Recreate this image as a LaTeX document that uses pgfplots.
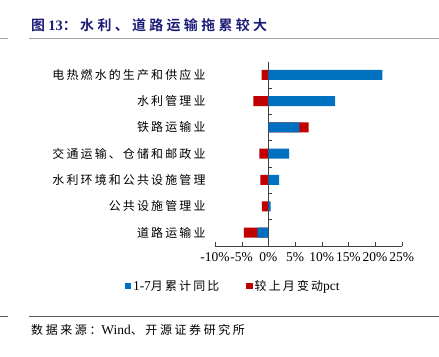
\documentclass[border=0pt]{standalone}
\usepackage{fontspec}
\setmainfont{Liberation Serif}
\newfontfamily\cjk[LetterSpace=18]{Noto Sans CJK SC}
\newfontfamily\cjks[LetterSpace=22]{Noto Sans CJK SC}
\newfontfamily\cjkt[LetterSpace=24]{Noto Sans CJK SC Bold}
\usepackage{pgfplots}
\pgfplotsset{compat=1.18}
\definecolor{barblue}{RGB}{0,112,192}
\definecolor{barred}{RGB}{192,0,0}
\definecolor{titlec}{RGB}{28,28,120}
\pgfplotstableread{
idx blue redplot
0 21.4 -1.25
1 12.5 -2.8
2 5.8 7.55
3 3.9 -1.7
4 2.0 -1.5
5 0.45 -1.2
6 -2.05 -4.6
}\datatab
\begin{document}
\begin{tikzpicture}
\useasboundingbox (0,0) rectangle (439bp,-357bp);
\node[anchor=west, text=titlec, inner sep=0] at (31bp,-25bp) {{\fontsize{14}{16}\selectfont\cjkt 图}{\fontsize{14.5}{16}\selectfont\textbf{13}}{\fontsize{14}{16}\selectfont\cjkt ：水利、道路运输拖累较大}};
\draw[line width=1.5bp, black!38] (29bp,-38.5bp) -- (439bp,-38.5bp);
\draw[line width=1.5bp, black!38] (0bp,-38.5bp) -- (8bp,-38.5bp);
\draw[line width=0.8bp, black!65] (29bp,-316bp) -- (439bp,-316bp);
\draw[line width=0.8bp, black!65] (0bp,-316bp) -- (8bp,-316bp);
\node[anchor=west, inner sep=0] at (31bp,-330bp) {\fontsize{13.5}{15}\selectfont{\fontsize{12}{14}\selectfont\cjks 数据来源：}Wind{\fontsize{12}{14}\selectfont\cjks 、开源证券研究所}};
\begin{axis}[
  at={(215bp,-245.7bp)}, anchor=south west,
  scale only axis, width=186.7bp, height=184bp,
  xmin=-10, xmax=25, ymin=-0.5, ymax=6.5, y dir=reverse,
  xbar, bar width=10bp, bar shift=0pt,
  axis x line*=bottom, axis y line*=left,
  y axis line style={draw=none},
  x axis line style={black!75},
  xtick={-10,-5,...,25},
  xticklabel={\pgfmathprintnumber{\tick}\%},
  /pgf/number format/assume math mode=true,
  x tick label style={font=\fontsize{13.5}{15}\selectfont, yshift=-7bp, inner sep=0pt},
  x tick style={black!75},
  tick align=inside, major tick length=4bp,
  ytick={0,...,6},
  yticklabels={电热燃水的生产和供应业,水利管理业,铁路运输业,交通运输、仓储和邮政业,水利环境和公共设施管理,公共设施管理业,道路运输业},
  y tick label style={font=\cjk\fontsize{12}{14}\selectfont, xshift=-6bp},
  ytick style={draw=none},
  legend style={at={(-0.485,-0.219)}, anchor=west, draw=none, fill=none,
    legend columns=2, font=\fontsize{13.5}{15}\selectfont,
    /tikz/every even column/.append style={column sep=25bp},
    inner sep=0pt},
  legend image code/.code={\fill[#1] (0bp,-3.2bp) rectangle (6.4bp,3.2bp);},
  legend cell align=left,
]
\draw[black!75] (axis cs:0,-0.5) -- (axis cs:0,6.5);
\pgfplotsinvokeforeach{0.5,1.5,2.5,3.5,4.5,5.5}{\draw[black!75] (axis cs:0,#1) -- ([xshift=4bp]axis cs:0,#1);}
\addplot[fill=barred, draw=none, forget plot] table[x=redplot, y=idx] {\datatab};
\addplot[fill=barblue, draw=none] table[x=blue, y=idx] {\datatab};
\addlegendentry{1-7{\fontsize{12}{14}\selectfont\cjk 月累计同比}}
\addlegendimage{fill=barred, draw=none}
\addlegendentry{{\fontsize{12}{14}\selectfont\cjk 较上月变动}pct}
\end{axis}
\end{tikzpicture}
\end{document}
